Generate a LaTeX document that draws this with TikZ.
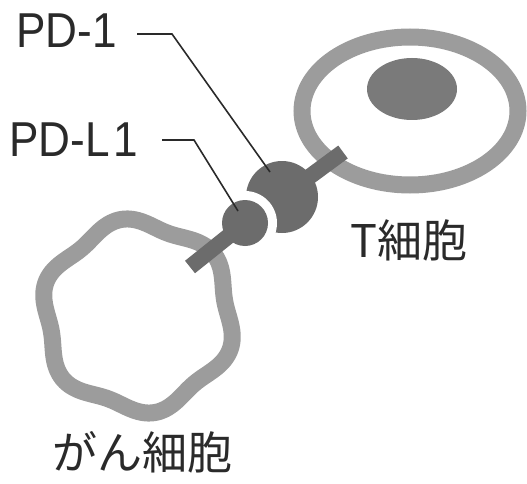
\documentclass[tikz,border=0pt]{standalone}
\usepackage{fontspec}
\setmainfont{Liberation Sans}
\newfontfamily\jpfont{Noto Sans CJK JP}
\definecolor{ringgray}{HTML}{9C9C9C}
\definecolor{moldark}{HTML}{6C6C6C}
\definecolor{nucgray}{HTML}{7A7A7A}
\definecolor{leadcol}{HTML}{2A2A2A}
\definecolor{txtcol}{HTML}{2A2A2A}
\begin{document}
\begin{tikzpicture}[x=1pt,y=-1pt,
  ring/.style={draw=ringgray,line width=17pt,fill=white},
  bar/.style={draw=moldark,line width=16pt,line cap=butt},
  lead/.style={draw=leadcol,line width=1.6pt},
  pdlabel/.style={anchor=base west,inner sep=0pt,text=txtcol,
    font=\fontsize{49}{49}\selectfont},
  jplabel/.style={anchor=center,inner sep=0pt,text=txtcol,
    font=\jpfont\fontsize{45}{45}\selectfont}]
\useasboundingbox (0,0) rectangle (527,484);

% T cell: membrane and nucleus
\draw[ring] (410,111) ellipse [x radius=108, y radius=74];
\fill[nucgray] (412,89) ellipse [x radius=45, y radius=31];

% cancer cell: wavy six-lobed membrane
\draw[ring] plot[domain=0:357, samples=120, smooth cycle, variable=\t]
  ({138+(93+5*cos(6*(\t-40)))*cos(\t)},
   {316-(93+5*cos(6*(\t-40)))*sin(\t)});

% receptor and ligand
\coordinate (barA) at (190,267);
\coordinate (barB) at (343,152);
\coordinate (pdl) at (245,223);
\coordinate (pd) at (282,197);

\fill[moldark] (pd) circle [radius=36];
\fill[white] (pdl) circle [radius=32];
\draw[bar] (pd) -- (barB);
\draw[bar] (barA) -- (pdl);
\fill[moldark] (pdl) circle [radius=23];

% labels and leader lines
\node[pdlabel] (lbl1) at (16,48) {\scalebox{0.9}[1]{PD-1}};
\node[pdlabel] (lbl2) at (9,157) {\scalebox{0.9}[1]{PD-L\kern4pt1}};

\coordinate (s1) at (137,34);
\coordinate (k1) at (172,34);
\coordinate (t1) at (270,172);
\coordinate (s2) at (162,140);
\coordinate (k2) at (194,140);
\coordinate (t2) at (238,211);
\draw[lead] (s1) -- (k1) -- (t1);
\draw[lead] (s2) -- (k2) -- (t2);

\node[jplabel] (tcell) at (409,240) {T細胞};
\node[jplabel] (cancer) at (142,452) {がん細胞};
\end{tikzpicture}
\end{document}
